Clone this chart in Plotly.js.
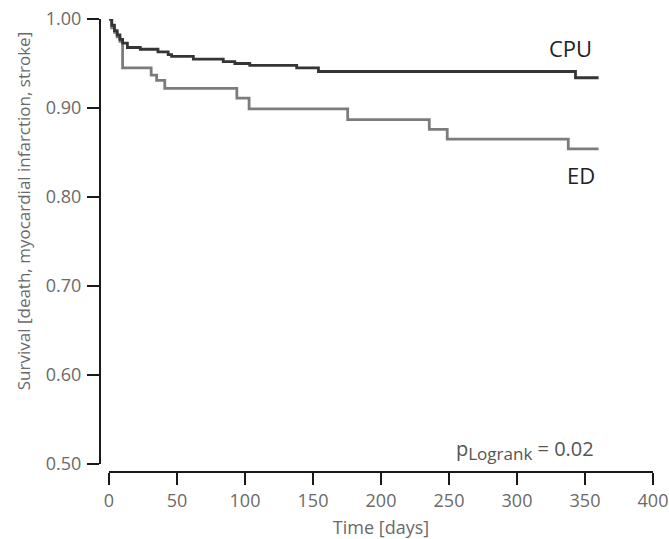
<!DOCTYPE html>
<html>
<head>
<meta charset="utf-8">
<script src="https://cdn.plot.ly/plotly-3.0.1.min.js"></script>
<style>html,body{margin:0;padding:0;background:#fff;}#chart{width:669px;height:539px;}</style>
</head>
<body>
<div id="chart"></div>
<script>
// Kaplan-Meier estimates
const cpuDays     = [0, 2, 4, 6, 8, 10, 13.5, 23, 36, 43.5, 46, 62, 84, 92.5, 103.5, 138, 154, 343, 360];
const cpuSurvival = [1.000, 0.993, 0.987, 0.982, 0.977, 0.973, 0.968, 0.966, 0.963, 0.960, 0.958, 0.955, 0.952, 0.950, 0.948, 0.945, 0.941, 0.934, 0.934];
const edDays      = [0, 2, 4, 6, 8, 10, 31, 35, 41, 94, 103, 175.5, 235.5, 248.7, 337.7, 360];
const edSurvival  = [1.000, 0.990, 0.985, 0.980, 0.975, 0.945, 0.937, 0.931, 0.922, 0.911, 0.899, 0.887, 0.876, 0.865, 0.854, 0.854];

const xTicks = [0, 50, 100, 150, 200, 250, 300, 350, 400];
const yTicks = [0.50, 0.60, 0.70, 0.80, 0.90, 1.00];
const groupLabels = ['CPU', 'ED'];
const pLabel = 'p<sub><span style="font-size:17px">Logrank</span></sub> = 0.02';

const traces = [
  {x: edDays, y: edSurvival, type: 'scatter', mode: 'lines', name: groupLabels[1],
   line: {shape: 'hv', color: '#7c7c7c', width: 2.8}, hoverinfo: 'x+y'},
  {x: cpuDays, y: cpuSurvival, type: 'scatter', mode: 'lines', name: groupLabels[0],
   line: {shape: 'hv', color: '#353535', width: 2.8}, hoverinfo: 'x+y'}
];

const axisCommon = {
  showline: true, linecolor: '#1a1a1a', linewidth: 2,
  ticks: 'outside', ticklen: 12, tickwidth: 2, tickcolor: '#1a1a1a',
  showgrid: false, zeroline: false,
  tickfont: {family: 'Open Sans, sans-serif', size: 18, color: '#6a6a6a'},
  anchor: 'free', position: 0
};

const layout = {
  width: 669, height: 539,
  margin: {l: 100, r: 16, t: 19, b: 67},
  paper_bgcolor: '#fff', plot_bgcolor: '#fff',
  showlegend: false,
  font: {family: 'Open Sans, sans-serif', color: '#6a6a6a'},
  xaxis: Object.assign({}, axisCommon, {
    range: [0, 400], domain: [0.0163, 1],
    tickvals: xTicks, ticktext: xTicks.map(String),
    title: {text: 'Time [days]', font: {size: 18, color: '#6a6a6a'}, standoff: 10}
  }),
  yaxis: Object.assign({}, axisCommon, {
    range: [0.5, 1.0], domain: [0.0177, 1],
    tickvals: yTicks, ticktext: yTicks.map(v => v.toFixed(2)),
    ticklabelstandoff: 2
  }),
  annotations: [
    {xref: 'paper', yref: 'paper', x: -0.138, y: 0.575, xanchor: 'center', yanchor: 'middle',
     text: 'Survival [death, myocardial infarction, stroke]', textangle: -90, showarrow: false,
     font: {size: 17, color: '#6a6a6a'}},
    {xref: 'x', yref: 'y', x: 339, y: 0.967, xanchor: 'center', yanchor: 'middle',
     text: groupLabels[0], showarrow: false, font: {size: 22, color: '#222'}},
    {xref: 'x', yref: 'y', x: 347, y: 0.825, xanchor: 'center', yanchor: 'middle',
     text: groupLabels[1], showarrow: false, font: {size: 22, color: '#222'}},
    {xref: 'x', yref: 'y', x: 306, y: 0.516, xanchor: 'center', yanchor: 'middle',
     text: pLabel, showarrow: false, font: {size: 20, color: '#555'}}
  ]
};

Plotly.newPlot('chart', traces, layout, {displayModeBar: false, staticPlot: true});
</script>
</body>
</html>
